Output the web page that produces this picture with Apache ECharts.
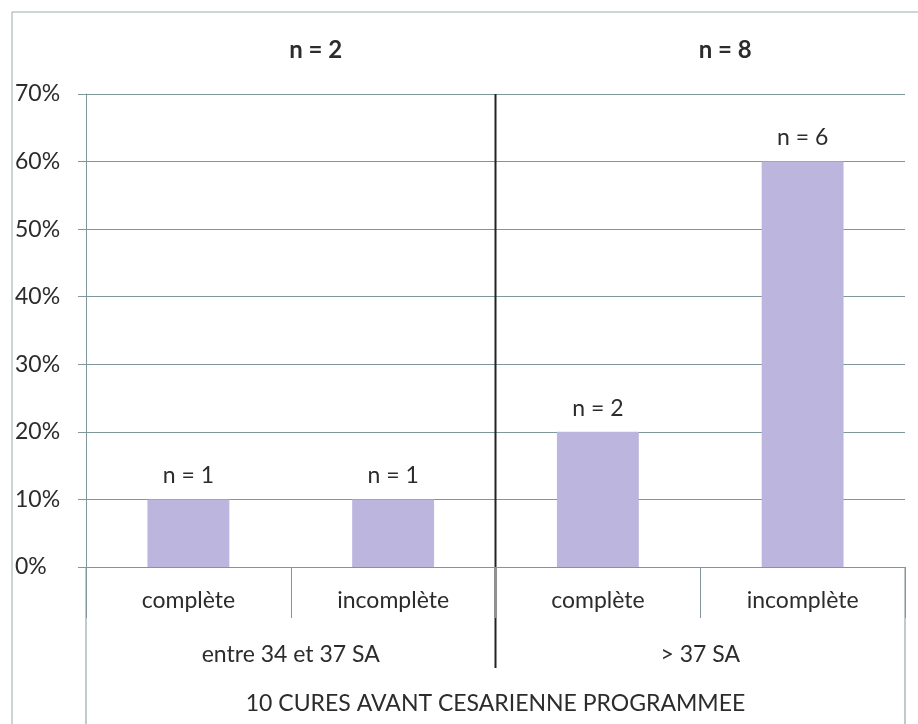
<!DOCTYPE html>
<html>
<head>
<meta charset="utf-8">
<script src="https://cdn.jsdelivr.net/npm/echarts@6/dist/echarts.min.js"></script>
<style>
  html, body { margin: 0; padding: 0; background: #fff; }
  #chart { width: 918px; height: 724px; }
</style>
</head>
<body>
<div id="chart"></div>
<script>
// données
const categories = ['complète', 'incomplète', 'complète', 'incomplète']
const groups = ['entre 34 et 37 SA', '> 37 SA']
const groupCounts = ['n = 2', 'n = 8']
const percents = [0.10, 0.10, 0.20, 0.60]
const counts = [1, 1, 2, 6]
const xTitle = '10 CURES AVANT CESARIENNE PROGRAMMEE'

const FONT = 'Lato'
const TEXT = '#2c2c2c'
const GRID = '#7f969a'
const BAR = '#bcb6de'

const chart = echarts.init(document.getElementById('chart'))

const option = {
  animation: false,
  textStyle: { fontFamily: FONT },
  grid: { left: 86, right: 13, top: 94, bottom: 157, containLabel: false },
  xAxis: [
    {
      type: 'category',
      data: categories,
      axisLine: { lineStyle: { color: GRID, width: 1 } },
      axisTick: { show: true, interval: 0, length: 51, lineStyle: { color: GRID } },
      axisLabel: { interval: 0, margin: 22, color: TEXT, fontSize: 23, fontFamily: FONT }
    },
    {
      type: 'category',
      data: groups,
      position: 'bottom',
      axisLine: { show: false },
      axisTick: { show: false },
      axisLabel: { interval: 0, margin: 76, color: TEXT, fontSize: 23, fontFamily: FONT },
      name: xTitle,
      nameLocation: 'middle',
      nameGap: 125,
      nameTextStyle: { color: TEXT, fontSize: 23, fontFamily: FONT }
    },
    {
      type: 'category',
      data: groupCounts,
      position: 'top',
      axisLine: { show: false },
      axisTick: { show: false },
      axisLabel: {
        interval: 0, margin: 32, color: TEXT, fontSize: 24, fontWeight: 'bold',
        fontFamily: FONT, padding: [0, 0, 0, 50]
      }
    }
  ],
  yAxis: {
    type: 'value',
    min: 0,
    max: 0.7,
    interval: 0.1,
    axisLine: { show: true, lineStyle: { color: GRID } },
    axisTick: { show: true, length: 8, lineStyle: { color: GRID } },
    splitLine: { lineStyle: { color: GRID, width: 1 } },
    axisLabel: {
      align: 'left',
      margin: 71,
      color: TEXT,
      fontSize: 23,
      fontFamily: FONT,
      formatter: v => Math.round(v * 100) + '%'
    }
  },
  series: [
    {
      type: 'bar',
      xAxisIndex: 0,
      data: percents,
      barWidth: '40%',
      itemStyle: { color: BAR },
      label: {
        show: true,
        position: 'top',
        distance: 12,
        color: TEXT,
        fontSize: 23,
        fontFamily: FONT,
        formatter: p => 'n = ' + counts[p.dataIndex]
      }
    }
  ]
}

chart.setOption(option)

// traits du tableau sous l'axe et séparateur des deux groupes
const left = chart.convertToPixel({ xAxisIndex: 0 }, 0)
const step = chart.convertToPixel({ xAxisIndex: 0 }, 1) - left
const x0 = left - step / 2
const xMid = x0 + step * 2
const xEnd = x0 + step * 4
const yTop = chart.convertToPixel({ yAxisIndex: 0 }, 0.7)
const yZero = chart.convertToPixel({ yAxisIndex: 0 }, 0)

chart.setOption({
  graphic: [
    { type: 'rect', shape: { x: 12, y: 12, width: 940, height: 760 },
      style: { fill: 'none', stroke: '#9aabae', lineWidth: 1 }, silent: true },
    { type: 'line', shape: { x1: x0, y1: yZero, x2: x0, y2: 724 },
      style: { stroke: GRID, lineWidth: 1 }, silent: true },
    { type: 'line', shape: { x1: xEnd, y1: yZero, x2: xEnd, y2: 724 },
      style: { stroke: GRID, lineWidth: 1 }, silent: true },
    { type: 'line', shape: { x1: xMid, y1: yTop, x2: xMid, y2: 668 },
      style: { stroke: '#222222', lineWidth: 2 }, silent: true }
  ]
})

window.addEventListener('resize', () => chart.resize())
</script>
</body>
</html>
